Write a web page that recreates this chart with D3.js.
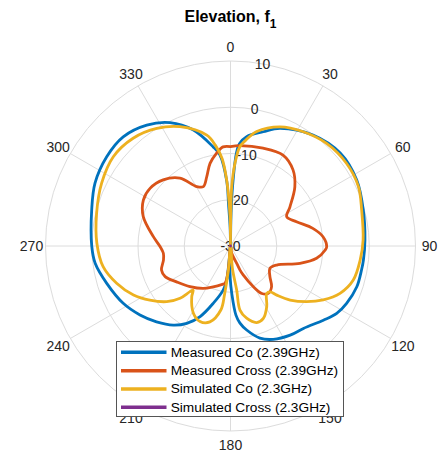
<!DOCTYPE html>
<html>
<head>
<meta charset="utf-8">
<script src="https://cdn.jsdelivr.net/npm/d3@7"></script>
<style>
  body { margin: 0; background: #fff; }
  text { font-family: "Liberation Sans", Arial, Helvetica, sans-serif; }
</style>
</head>
<body>
<svg id="chart" width="441" height="456"></svg>
<script>
// values (angle in degrees, level in dB)
const measCoAng = [0, 1, 2, 3.6, 5, 8.4, 16, 22.8, 36.6, 49.7, 62.4, 74.8, 87.4, 96, 100.4, 107.9, 116.3, 122.4, 128.6, 138.5, 146.2, 155.4, 162.3, 169.1, 173, 175.5, 178.5, 180.5, 182.5, 184, 186.4, 189.3, 196.7, 203.3, 209.5, 215.9, 224.3, 232.7, 241.9, 253.2, 262.7, 270, 284.5, 294.9, 305.8, 315.5, 325.3, 333.9, 342.1, 350, 353.4, 356.7, 357.3, 358.8, 360];
const measCoDb = [-30, -23, -17, -10, -7.8, -6.1, -4.3, -2.4, -0.1, 1.1, 0.8, -0.25, -0.9, -1.1, -1.2, -1.3, -2.0, -2.8, -4.3, -6.2, -6.8, -7.8, -9.1, -11.5, -13.2, -15, -19.8, -23, -28, -30, -22.6, -20.4, -17.1, -13.4, -10.8, -8.9, -7.1, -5.4, -3.7, -2.05, -0.5, 0, 1.0, 2.3, 3.0, 3.1, 1.8, -0.3, -3.6, -8.2, -10.2, -16, -21, -26, -30];

const measXAng = [0, 5.4, 18.4, 30, 39.4, 47.4, 56.6, 62.5, 69.8, 77.9, 84.3, 90.4, 92.4, 98.1, 104, 112.4, 119.4, 127.9, 134.7, 141.4, 146.6, 150.7, 156.2, 158.4, 160.3, 170.7, 177, 185.2, 188.4, 190.9, 202.9, 212.7, 224.9, 236.4, 244.9, 250.8, 258.2, 263.8, 269.4, 276.9, 288.6, 297.8, 305.6, 314.5, 323.3, 330.3, 335.4, 341, 346.1, 351.5, 355.7, 360];
const measXDb = [-8.5, -8.2, -7.7, -7.3, -8.7, -11.1, -14.6, -16.3, -14.8, -11.8, -9.9, -9.2, -9.5, -11.2, -14.5, -19.2, -20.2, -19.2, -17.5, -16.9, -17.7, -19.9, -23.1, -24.4, -26, -28.4, -30, -24.8, -21.8, -21.6, -20.4, -19.1, -17.6, -16, -14.4, -14.2, -15.2, -15.4, -14.8, -13.2, -10.1, -8.7, -8.6, -9.6, -11.7, -15.2, -15.9, -14.2, -11.6, -9.7, -8.5, -8.5];

const simCoAng = [0, 0.5, 1.2, 3.1, 5.3, 8, 12.9, 22.5, 32.5, 43.1, 54.6, 65.1, 74.7, 87.4, 96.2, 105.5, 113.4, 120.2, 126.2, 132.2, 136.7, 139.2, 142.6, 149.2, 155.6, 161.1, 167.4, 171.6, 172, 175, 180, 185, 187, 188.6, 195.2, 202, 208.9, 217.4, 220.2, 221.6, 224, 228.9, 236.1, 243.2, 251.9, 260.8, 271.2, 283.7, 296, 307.3, 317.9, 327.9, 337.1, 347.9, 351.5, 354.5, 356.7, 357.6, 359.2, 360];
const simCoDb = [-30, -23, -17.2, -12.1, -8.5, -7, -4.6, -2.1, -0.7, 0.4, 0.8, 0.5, -0.6, -1.3, -1.8, -2.45, -4.2, -6.8, -9.6, -12.6, -15.4, -16.9, -17.1, -14.7, -12.8, -12.5, -14, -16, -20.4, -25, -30, -25, -19.5, -16, -13, -12.4, -13.4, -16.2, -17.5, -16.8, -14.3, -11.7, -9.0, -6.5, -4.1, -2.1, -1.1, -0.2, 1.0, 1.85, 1.4, 0, -2, -5.5, -8.0, -11, -15.7, -18.6, -24, -30];

// simulated cross-pol stays below the -30 dB floor
const simXAng = [0, 90, 180, 270, 360];
const simXDb = [-30, -30, -30, -30, -30];

const seriesNames = ["Measured Co (2.39GHz)", "Measured Cross (2.39GHz)", "Simulated Co (2.3GHz)", "Simulated Cross (2.3GHz)"];
const seriesColors = ["#0072BD", "#D95319", "#EDB120", "#7E2F8E"];

const rTicks = [-30, -20, -10, 0, 10];
const thetaTicks = [0, 30, 60, 90, 120, 150, 180, 210, 240, 270, 300, 330];

const svg = d3.select("#chart");
const cx = 230.5, cy = 246, R = 185;

const r = d3.scaleLinear().domain([-30, 10]).range([0, R]).clamp(true);
const rad = d => d * Math.PI / 180;

const g = svg.append("g").attr("transform", `translate(${cx},${cy})`);

// grid
g.selectAll("circle.grid")
  .data(rTicks.filter(d => d > -30))
  .enter().append("circle")
  .attr("r", d => r(d))
  .attr("fill", "none")
  .attr("stroke", "#dcdcdc")
  .attr("stroke-width", 1);

g.selectAll("line.spoke")
  .data(thetaTicks)
  .enter().append("line")
  .attr("x1", 0).attr("y1", 0)
  .attr("x2", d => R * Math.sin(rad(d)))
  .attr("y2", d => -R * Math.cos(rad(d)))
  .attr("stroke", "#dcdcdc")
  .attr("stroke-width", 1);

// r tick labels along 10 deg
g.selectAll("text.rlab")
  .data(rTicks)
  .enter().append("text")
  .attr("x", d => r(d) * Math.sin(rad(10)))
  .attr("y", d => -r(d) * Math.cos(rad(10)))
  .attr("text-anchor", "middle")
  .attr("dominant-baseline", "central")
  .attr("font-size", 14)
  .attr("fill", "#262626")
  .text(d => d);

// theta labels
g.selectAll("text.tlab")
  .data(thetaTicks)
  .enter().append("text")
  .attr("x", d => 199 * Math.sin(rad(d)))
  .attr("y", d => -199 * Math.cos(rad(d)))
  .attr("text-anchor", "middle")
  .attr("dominant-baseline", "central")
  .attr("font-size", 14)
  .attr("fill", "#262626")
  .text(d => d);

// curves
const line = d3.lineRadial()
  .angle(d => rad(d[0]))
  .radius(d => r(d[1]))
  .curve(d3.curveCatmullRom.alpha(0.5));

const series = [
  d3.zip(measCoAng, measCoDb),
  d3.zip(measXAng, measXDb),
  d3.zip(simCoAng, simCoDb),
  d3.zip(simXAng, simXDb)
];

series.forEach((s, i) => {
  g.append("path")
    .datum(s)
    .attr("d", line)
    .attr("fill", "none")
    .attr("stroke", seriesColors[i])
    .attr("stroke-width", 2.8)
    .attr("stroke-linejoin", "round")
    .attr("stroke-linecap", "round");
});

// legend
const lg = svg.append("g");
lg.append("rect")
  .attr("x", 116.5).attr("y", 341.5)
  .attr("width", 227).attr("height", 75)
  .attr("fill", "#fff")
  .attr("stroke", "#555")
  .attr("stroke-width", 1);

const rowY = d3.scaleLinear().domain([0, 3]).range([352.3, 407.3]);
seriesNames.forEach((name, i) => {
  lg.append("line")
    .attr("x1", 121).attr("x2", 166.5)
    .attr("y1", rowY(i)).attr("y2", rowY(i))
    .attr("stroke", seriesColors[i])
    .attr("stroke-width", 3.5);
  lg.append("text")
    .attr("x", 170.7).attr("y", rowY(i))
    .attr("dominant-baseline", "central")
    .attr("font-size", 13.7)
    .attr("fill", "#000")
    .text(name);
});

// title
const title = svg.append("text")
  .attr("x", 230.5).attr("y", 22)
  .attr("text-anchor", "middle")
  .attr("font-size", 16)
  .attr("font-weight", "bold")
  .attr("fill", "#000");
title.append("tspan").text("Elevation, f");
title.append("tspan").attr("dy", 6).attr("font-size", 12).text("1");
</script>
</body>
</html>
